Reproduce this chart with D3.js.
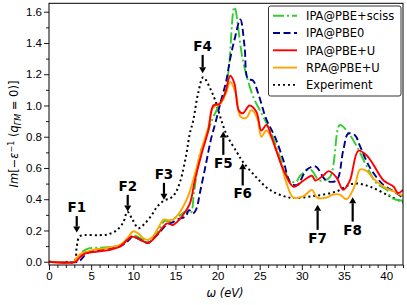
<!DOCTYPE html>
<html>
<head>
<meta charset="utf-8">
<title>loss function</title>
<script src="https://cdn.jsdelivr.net/npm/d3@7"></script>
<style>
    body { margin: 0; background: white; }
    svg { display: block; font-family: "DejaVu Sans", sans-serif; }
    .tick text { font-size: 11.5px; fill: black; }
    .domain { display: none; }
    .label { font-size: 11.5px; }
    .ann { font-size: 13.5px; font-weight: bold; text-anchor: middle; }
    .legendText { font-size: 11.5px; }
</style>
</head>
<body>
<script>
// energy (eV) / Im[-1/eps] pairs
const sciss = [[0,0],[3,0],[3.4,0.02],[3.9,0.06],[4.7,0.085],[6,0.09],[7.5,0.095],[8.5,0.11],[9.3,0.14],[9.9,0.17],
    [10.5,0.16],[11.2,0.14],[11.7,0.13],[12.3,0.15],[12.9,0.19],[13.7,0.26],[14.3,0.26],[15,0.28],[15.6,0.3],[16.2,0.32],
    [16.8,0.31],[17.2,0.44],[17.9,0.69],[18.6,0.79],[19.3,0.9],[20.1,0.99],[20.7,1.04],[21.3,1.22],[22,1.63],[23,1.29],
    [24.2,1.06],[25.4,0.93],[26.4,0.82],[27.4,0.67],[28.6,0.52],[29.3,0.51],[29.8,0.55],[31,0.59],[32.1,0.52],[33.3,0.54],
    [34.5,0.875],[35.3,0.84],[36.5,0.74],[37.7,0.61],[38.9,0.5],[40.1,0.46],[40.6,0.41],[42,0.39]];
const pbe0 = [[0,0],[3.5,0],[3.9,0.02],[4.4,0.05],[5.2,0.07],[6.5,0.08],[7.5,0.09],[8.5,0.1],[9.3,0.13],[9.9,0.16],
    [10.5,0.15],[11.2,0.13],[11.8,0.12],[12.4,0.15],[13,0.18],[14,0.24],[14.6,0.25],[15.2,0.27],[16.2,0.29],[16.6,0.33],
    [17.1,0.31],[17.5,0.34],[17.9,0.44],[18.6,0.62],[19.2,0.78],[19.8,0.9],[20.4,1.03],[21,1.15],[21.5,1.3],[22,1.42],
    [22.7,1.55],[23.2,1.38],[23.6,1.17],[24.2,1.16],[24.8,1.08],[25.8,0.91],[26.8,0.8],[27.8,0.65],[28.6,0.51],[29.4,0.49],
    [30.6,0.59],[31.6,0.61],[32.9,0.52],[34.1,0.52],[34.9,0.71],[35.5,0.82],[36.3,0.81],[36.9,0.74],[38.1,0.6],[39.7,0.49],
    [40.9,0.45],[42,0.41]];
const pbeU = [[0,0],[3.2,0],[3.5,0.02],[4.2,0.05],[5,0.06],[6.5,0.07],[7.5,0.08],[8.5,0.1],[9.3,0.14],[9.8,0.16],
    [10.5,0.15],[11.2,0.13],[11.8,0.12],[12.3,0.14],[12.8,0.17],[14,0.245],[14.7,0.235],[15.3,0.26],[15.9,0.3],[16.7,0.37],
    [17.3,0.52],[18.1,0.69],[18.9,0.84],[19.5,1],[20.2,1.01],[20.9,1.08],[21.5,1.19],[22,1.14],[22.5,0.97],[23,0.95],
    [23.8,1],[24.6,0.96],[25.2,0.84],[25.8,0.875],[26.4,0.8],[27.1,0.69],[27.8,0.59],[29,0.48],[30.2,0.52],[31.2,0.55],
    [31.6,0.52],[32.5,0.55],[33.2,0.58],[34.1,0.54],[34.9,0.46],[35.7,0.52],[36.7,0.71],[37.7,0.68],[38.5,0.62],[39.7,0.52],
    [40.9,0.48],[41.4,0.44],[42,0.46]];
const rpaU = [[0,0],[3,0],[3.2,0.02],[3.8,0.05],[4.5,0.065],[5.5,0.08],[6.5,0.085],[7.5,0.095],[8.5,0.11],[9.3,0.15],
    [10,0.195],[10.6,0.18],[11.2,0.15],[11.7,0.14],[12.3,0.16],[13,0.22],[13.6,0.27],[14.2,0.265],[14.7,0.27],[15.3,0.3],
    [15.9,0.35],[16.5,0.42],[17.1,0.52],[17.5,0.6],[18.1,0.72],[18.9,0.86],[19.4,0.98],[19.8,1],[20.3,1.01],[21,1.08],
    [21.5,1.15],[22.2,1.07],[22.7,0.93],[23.4,0.92],[24,0.97],[24.7,0.92],[25.2,0.8],[25.8,0.84],[26.8,0.74],[27.4,0.65],
    [28.2,0.5],[29,0.41],[30.2,0.42],[31.2,0.46],[31.8,0.41],[32.9,0.41],[33.7,0.43],[34.5,0.43],[35.3,0.4],[36.3,0.49],
    [36.9,0.59],[37.7,0.58],[38.5,0.53],[39.7,0.48],[40.9,0.45],[42,0.42]];
const experiment = [[2,0],[3,0],[3.3,0.1],[3.6,0.16],[4.2,0.17],[6,0.17],[7,0.175],[8,0.2],[8.8,0.25],[9.3,0.32],
    [9.9,0.27],[10.6,0.215],[11.3,0.24],[12.2,0.3],[12.8,0.35],[13.6,0.39],[14.5,0.41],[15,0.44],[15.6,0.52],[16.3,0.69],
    [16.7,0.82],[17.1,0.9],[17.7,1.08],[18.3,1.18],[19.2,1.1],[19.8,1.02],[20.3,0.93],[21.1,0.81],[22.3,0.7],[23,0.64],
    [24.6,0.54],[26.2,0.46],[28.6,0.41],[31.4,0.42],[34.1,0.45],[36.1,0.5],[38.1,0.48],[40.4,0.42],[42,0.38]];

const seriesNames = ["IPA@PBE+sciss", "IPA@PBE0", "IPA@PBE+U", "RPA@PBE+U", "Experiment"];
const seriesData = [sciss, pbe0, pbeU, rpaU, experiment];

// feature arrows: label, energy, arrow tail and tip values
const annLabels = ["F1", "F2", "F3", "F4", "F5", "F6", "F7", "F8"];
const annEnergy = [3.29, 9.34, 13.64, 18.23, 20.68, 22.98, 31.87, 36.03];
const annTail = [0.292, 0.428, 0.505, 1.324, 0.684, 0.488, 0.204, 0.257];
const annTip = [0.187, 0.321, 0.396, 1.207, 0.833, 0.631, 0.364, 0.413];

const xTicks = [0, 5, 10, 15, 20, 25, 30, 35, 40];
const yTicks = [0, 0.2, 0.4, 0.6, 0.8, 1.0, 1.2, 1.4, 1.6];

const W = 407, H = 305;
const styles = [
    {color: "#32cd32", dash: "11,3,2,3"},
    {color: "#00008b", dash: "7,3.5"},
    {color: "#ff0000", dash: null},
    {color: "#ffa500", dash: null},
    {color: "#000000", dash: "2,3"}
];

const svg = d3.select("body").append("svg").attr("width", W).attr("height", H);

const x = d3.scaleLinear().domain([0, 42]).range([49, 403]);
const y = d3.scaleLinear().domain([-0.021, 1.654]).range([265, 3.3]);

svg.append("defs").append("clipPath").attr("id", "clip")
    .append("rect").attr("x", 49).attr("y", 3.3).attr("width", 354).attr("height", 261.7);

// axes
const xAxis = svg.append("g").attr("transform", "translate(0,265)")
    .call(d3.axisBottom(x).tickValues(xTicks).tickSize(5).tickPadding(2).tickFormat(d3.format("d")));
svg.append("g").attr("transform", "translate(0,265)")
    .call(d3.axisBottom(x).tickValues(d3.range(0, 43, 1).filter(v => v % 5)).tickSize(3).tickFormat(""));
svg.append("g").attr("transform", "translate(49,0)")
    .call(d3.axisLeft(y).tickValues(yTicks).tickSize(5).tickPadding(2).tickFormat(d3.format(".1f")));
svg.append("g").attr("transform", "translate(49,0)")
    .call(d3.axisLeft(y).tickValues(d3.range(1, 17, 2).map(v => v / 10)).tickSize(3).tickFormat(""));
svg.selectAll(".tick line").attr("stroke", "black").attr("stroke-width", 0.9);

// curves
const line = d3.line().x(d => x(d[0])).y(d => y(d[1])).curve(d3.curveCatmullRom.alpha(0.5));
const plot = svg.append("g").attr("clip-path", "url(#clip)");
const order = [4, 0, 1, 3, 2];
order.forEach(i => {
    plot.append("path")
        .attr("d", line(seriesData[i]))
        .attr("fill", "none")
        .attr("stroke", styles[i].color)
        .attr("stroke-width", i === 4 ? 2 : 1.9)
        .attr("stroke-dasharray", styles[i].dash)
        .attr("stroke-linejoin", "round");
});

// frame
svg.append("rect").attr("x", 49).attr("y", 3.3).attr("width", 354).attr("height", 261.7)
    .attr("fill", "none").attr("stroke", "black").attr("stroke-width", 1);

// arrows
const ann = svg.append("g");
annLabels.forEach((lab, i) => {
    const ax = x(annEnergy[i]), t0 = y(annTail[i]), t1 = y(annTip[i]);
    const dir = t1 > t0 ? 1 : -1;
    const head = 6;
    ann.append("line").attr("x1", ax).attr("x2", ax).attr("y1", t0).attr("y2", t1 - dir * head)
        .attr("stroke", "black").attr("stroke-width", 2.2);
    ann.append("path")
        .attr("d", `M${ax - 3.5},${t1 - dir * head}L${ax + 3.5},${t1 - dir * head}L${ax},${t1}Z`)
        .attr("fill", "black");
    ann.append("text").attr("class", "ann")
        .attr("x", ax)
        .attr("y", dir > 0 ? t0 - 4 : t0 + 13)
        .text(lab);
});

// legend
const lg = svg.append("g");
lg.append("rect").attr("x", 268.5).attr("y", 6).attr("width", 132.5).attr("height", 90).attr("rx", 2)
    .attr("fill", "white").attr("fill-opacity", 0.85).attr("stroke", "#333").attr("stroke-width", 1);
seriesNames.forEach((name, i) => {
    const ly = 15.7 + i * 17.3;
    lg.append("line").attr("x1", 273).attr("x2", 297).attr("y1", ly).attr("y2", ly)
        .attr("stroke", styles[i].color).attr("stroke-width", 1.9)
        .attr("stroke-dasharray", styles[i].dash);
    lg.append("text").attr("class", "legendText").attr("x", 306).attr("y", ly + 4.2).text(name);
});

// axis labels
const xl = svg.append("text").attr("class", "label").attr("x", 225).attr("y", 297).attr("text-anchor", "middle");
xl.append("tspan").attr("font-style", "italic").text("ω (eV)");

const yl = svg.append("text").attr("class", "label").attr("text-anchor", "middle")
    .attr("transform", "translate(18,134) rotate(-90)");
yl.append("tspan").attr("font-style", "italic").text("Im");
yl.append("tspan").text("[−");
yl.append("tspan").attr("font-style", "italic").text("ε");
yl.append("tspan").attr("font-size", "8px").attr("dy", -4.5).text("−1");
yl.append("tspan").attr("dy", 4.5).text(" (");
yl.append("tspan").attr("font-style", "italic").text("q");
yl.append("tspan").attr("font-size", "8px").attr("font-style", "italic").attr("dy", 2.5).text("ΓM");
yl.append("tspan").attr("dy", -2.5).text(" = 0)]");
</script>
</body>
</html>
